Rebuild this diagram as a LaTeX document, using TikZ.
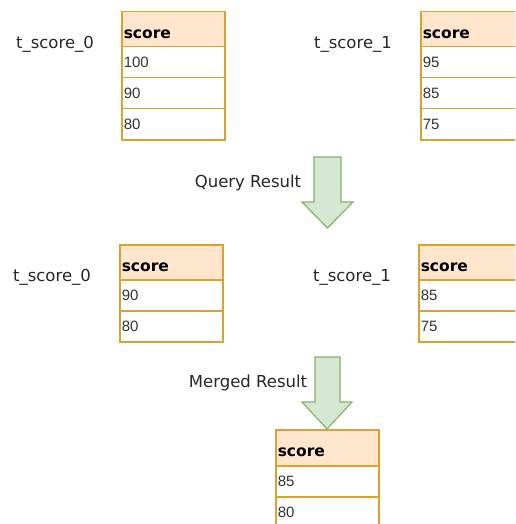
\documentclass[tikz,border=0pt]{standalone}
\usepackage{fontspec}
\setmainfont{Liberation Sans}
\newfontfamily\lblfamily{DejaVu Sans}
\definecolor{ostroke}{HTML}{DCA230}
\definecolor{ofill}{HTML}{FFE6CC}
\definecolor{gstroke}{HTML}{82B366}
\definecolor{gfill}{HTML}{D5E8D4}
\tikzset{
  hdr/.style={draw=ostroke, fill=ofill, line width=1.5pt, minimum width=103pt, minimum height=35pt,
    inner xsep=2pt, inner ysep=0pt, text width=99pt, align=left, anchor=north west,
    text height=18pt, text depth=0pt,
    font=\lblfamily\bfseries\fontsize{15.5pt}{18pt}\selectfont},
  cell/.style={draw=ostroke, fill=white, line width=1.5pt, minimum width=103pt, minimum height=31pt,
    inner xsep=2pt, inner ysep=0pt, text width=99pt, align=left, anchor=north west,
    font=\fontsize{15pt}{18pt}\selectfont, text=black!80},
  lbl/.style={font=\lblfamily\fontsize{16.5pt}{19pt}\selectfont, text=black!85, inner sep=0pt},
  blockarrow/.style={draw=gstroke, fill=gfill, line width=1.2pt, line join=miter}
}
\begin{document}
\begin{tikzpicture}[x=1pt,y=-1pt]
\useasboundingbox (0,0) rectangle (515,524);
\clip (0,0) rectangle (515,524);
% top left table
\node[lbl] (l0) at (55,44) {t\_score\_0};
\node[hdr] (a0) at (121,11) {score};
\node[cell] (a1) at (121,46) {100};
\node[cell] (a2) at (121,77) {90};
\node[cell] (a3) at (121,108) {80};
% top right table
\node[lbl] (l1) at (353,44) {t\_score\_1};
\node[hdr] (b0) at (420,11) {score};
\node[cell] (b1) at (420,46) {95};
\node[cell] (b2) at (420,77) {85};
\node[cell] (b3) at (420,108) {75};
% arrow 1
\node[lbl] (q) at (248,183) {Query Result};
\draw[blockarrow] (314,157) -- (341,157) -- (341,202) -- (353,202) -- (327.5,228) -- (302,202) -- (314,202) -- cycle;
% middle left table
\node[lbl] (m0) at (52,277) {t\_score\_0};
\node[hdr] (c0) at (119,244) {score};
\node[cell] (c1) at (119,279) {90};
\node[cell] (c2) at (119,310) {80};
% middle right table
\node[lbl] (m1) at (352,277) {t\_score\_1};
\node[hdr] (d0) at (418,244) {score};
\node[cell] (d1) at (418,279) {85};
\node[cell] (d2) at (418,310) {75};
% arrow 2
\node[lbl] (mr) at (248,383) {Merged Result};
\draw[blockarrow] (315,357) -- (340,357) -- (340,402) -- (352,402) -- (327,429) -- (302,402) -- (315,402) -- cycle;
% merged table
\node[hdr, minimum height=36pt] (e0) at (275,429) {score};
\node[cell] (e1) at (275,465) {85};
\node[cell] (e2) at (275,496) {80};
\end{tikzpicture}
\end{document}
